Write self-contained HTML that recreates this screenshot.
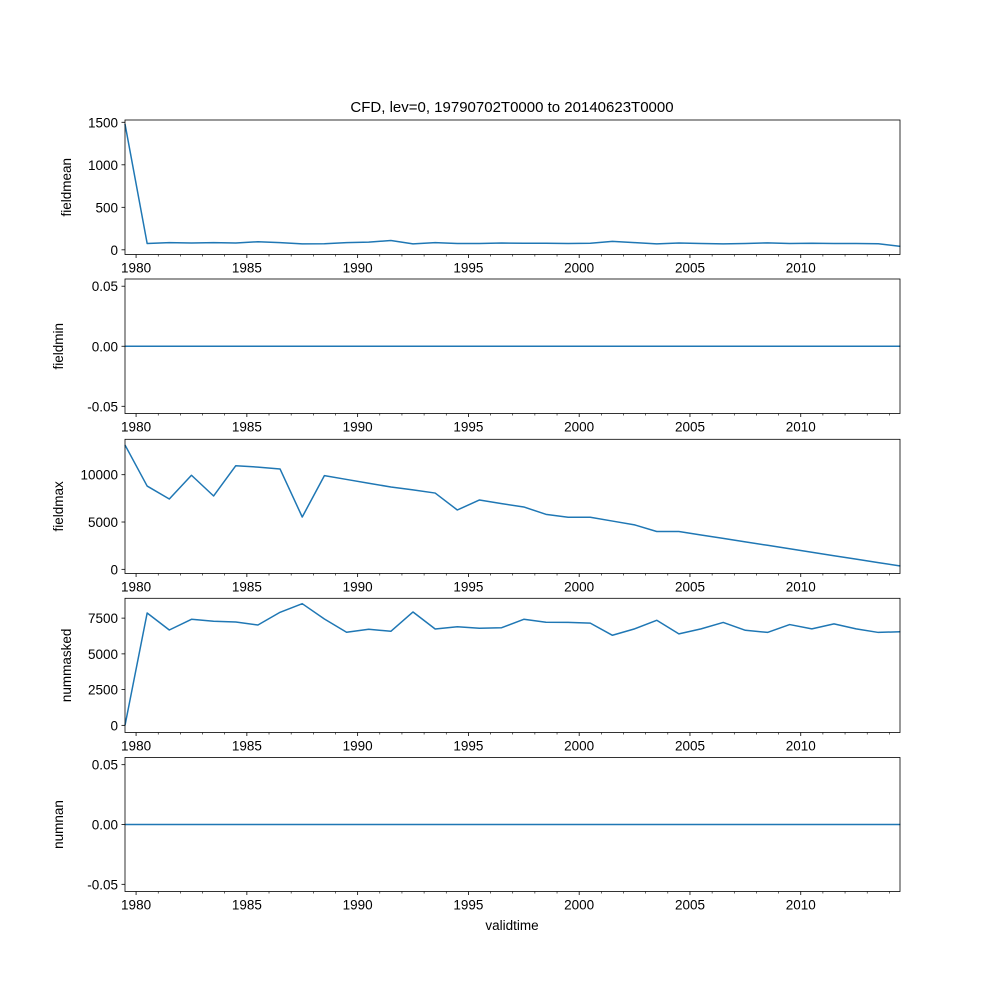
<!DOCTYPE html>
<html><head><meta charset="utf-8"><style>
html,body{margin:0;padding:0;background:#fff;}
svg{display:block;font-family:"Liberation Sans","DejaVu Sans",sans-serif;}
</style></head><body>
<svg id="chart" width="1000" height="1000" viewBox="0 0 1000 1000" xmlns="http://www.w3.org/2000/svg">
<rect width="1000" height="1000" fill="#fff"/>
<text x="512" y="112" font-size="15" text-anchor="middle" fill="#000">CFD, lev=0, 19790702T0000 to 20140623T0000</text>
<text x="512" y="930" font-size="13.5" text-anchor="middle" fill="#000">validtime</text>
</svg>
<script>
const years = [1979,1980,1981,1982,1983,1984,1985,1986,1987,1988,1989,1990,1991,1992,1993,1994,1995,1996,1997,1998,1999,2000,2001,2002,2003,2004,2005,2006,2007,2008,2009,2010,2011,2012,2013,2014];
const fieldmean = [1480,75,85,80,85,80,95,85,70,72,85,90,110,70,85,75,75,80,78,77,75,77,100,85,70,80,75,70,75,82,75,78,75,75,72,40];
const fieldmin = [0,0,0,0,0,0,0,0,0,0,0,0,0,0,0,0,0,0,0,0,0,0,0,0,0,0,0,0,0,0,0,0,0,0,0,0];
const fieldmax = [13140,8800,7430,9940,7750,10950,10800,10600,5530,9900,9500,9100,8700,8400,8060,6270,7330,6940,6590,5810,5500,5500,5100,4700,4000,4000,3630,3270,2900,2540,2170,1810,1440,1080,710,350];
const nummasked = [0,7860,6670,7420,7280,7230,7020,7910,8510,7440,6510,6720,6580,7930,6740,6900,6790,6830,7420,7210,7200,7150,6300,6750,7350,6400,6750,7200,6650,6500,7050,6750,7100,6750,6500,6550];
const numnan = [0,0,0,0,0,0,0,0,0,0,0,0,0,0,0,0,0,0,0,0,0,0,0,0,0,0,0,0,0,0,0,0,0,0,0,0];
const xMajorTicks = [1980,1985,1990,1995,2000,2005,2010];
const panelNames = ["fieldmean","fieldmin","fieldmax","nummasked","numnan"];
const yTicks1 = [0,500,1000,1500];
const yTicks2 = [-0.05,0,0.05];
const yTicks3 = [0,5000,10000];
const yTicks4 = [0,2500,5000,7500];
const yTicks5 = [-0.05,0,0.05];

const svg = document.getElementById('chart');
const NS = 'http://www.w3.org/2000/svg';
const X0 = 125, X1 = 900, T0 = 1979.5, T1 = 2014.48;
function xs(t){ return X0 + (t - T0) / (T1 - T0) * (X1 - X0); }
function mk(tag, attrs){ const e = document.createElementNS(NS, tag); for (const k in attrs) e.setAttribute(k, attrs[k]); svg.appendChild(e); return e; }

const panels = [
  {name:'fieldmean', data:fieldmean, top:120, bot:254.5, ymin:-55, ymax:1527, ticks:yTicks1, fmt:v=>String(v)},
  {name:'fieldmin', data:fieldmin, top:279, bot:413.5, ymin:-0.056, ymax:0.056, ticks:yTicks2, fmt:v=>v.toFixed(2)},
  {name:'fieldmax', data:fieldmax, top:439.3, bot:573.5, ymin:-440, ymax:13740, ticks:yTicks3, fmt:v=>String(v)},
  {name:'nummasked', data:nummasked, top:598.3, bot:732.5, ymin:-500, ymax:8887, ticks:yTicks4, fmt:v=>String(v)},
  {name:'numnan', data:numnan, top:757.5, bot:891.5, ymin:-0.056, ymax:0.056, ticks:yTicks5, fmt:v=>v.toFixed(2)}
];

panels.forEach((p, i) => {
  const ys = v => p.bot - (v - p.ymin) / (p.ymax - p.ymin) * (p.bot - p.top);
  const pts = p.data.map((v, j) => xs(years[j] + 0.5).toFixed(2) + ',' + ys(v).toFixed(2)).join(' ');
  const line = mk('polyline', {points: pts, fill: 'none', stroke: '#1f77b4', 'stroke-width': 1.5, 'stroke-linejoin': 'round'});
  
  
  const fr = mk('rect', {x: X0, y: p.top, width: X1 - X0, height: p.bot - p.top, fill: 'none', stroke: '#000', 'stroke-width': 0.8});
  
  
  p.ticks.forEach(v => {
    const y = ys(v);
    const tk = mk('line', {x1: X0 - 3.5, x2: X0, y1: y, y2: y, stroke: '#000', 'stroke-width': 0.8});
    
    
    const tl = mk('text', {x: X0 - 7, y: y + 5, 'font-size': 13.5, 'text-anchor': 'end', fill: '#000'});
    tl.textContent = p.fmt(v);
    
    
  });
  const cy = (p.top + p.bot) / 2;
  const yt = mk('text', {x: 0, y: 0, 'font-size': 13.5, 'text-anchor': 'middle', fill: '#000', transform: 'translate(' + (i === 3 ? 71 : (i === 1 || i === 2 || i === 4 ? 63 : 71)) + ',' + cy + ') rotate(-90)'});
  yt.textContent = p.name;
  
  
  for (let yr = 1980; yr <= 2014; yr++) {
    const major = xMajorTicks.indexOf(yr) >= 0;
    const x = xs(yr);
    const mt = mk('line', {x1: x, x2: x, y1: p.bot, y2: p.bot + (major ? 3.5 : 2), stroke: '#000', 'stroke-width': major ? 0.8 : 0.6});
    
    
  }
  xMajorTicks.forEach(yr => {
    const xl = mk('text', {x: xs(yr), y: p.bot + 18, 'font-size': 13.5, 'text-anchor': 'middle', fill: '#000'});
    xl.textContent = String(yr);
    
    
  });
});
</script>
</body></html>
